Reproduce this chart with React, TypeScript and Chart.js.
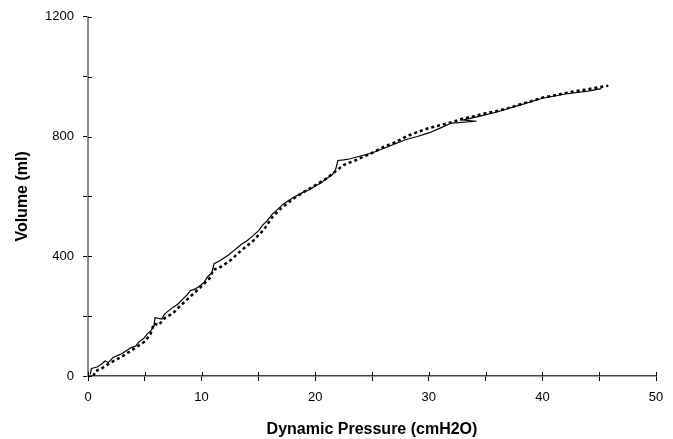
import React, { useEffect, useRef } from "react";
import { Chart, registerables } from "chart.js";

Chart.register(...registerables);

const solidPressure = [0.2, 0.3, 0.8, 1.2, 1.5, 1.8, 2.2, 2.6, 3.0, 3.4, 3.8, 4.2, 4.5, 4.9, 5.2, 5.5, 5.8, 5.9, 6.5, 6.7, 7.0, 7.5, 7.9, 8.3, 8.7, 9.0, 9.4, 9.8, 10.2, 10.5, 10.9, 11.1, 11.6, 12.0, 12.4, 12.8, 13.2, 13.5, 14.0, 14.5, 15.0, 15.4, 15.8, 16.2, 16.5, 17.2, 17.6, 18.0, 18.5, 19.0, 19.5, 20.0, 20.5, 21.0, 21.5, 21.8, 22.0, 22.5, 23.0, 24.0, 25.0, 26.0, 27.0, 28.0, 29.0, 30.0, 31.0, 32.0, 34.2, 33.0, 34.5, 36.0, 38.0, 40.0, 42.0, 44.0, 45.2];
const solidVolume = [5, 25, 30, 40, 50, 45, 62, 68, 75, 85, 95, 100, 115, 125, 140, 150, 165, 195, 190, 205, 215, 230, 240, 255, 270, 285, 290, 300, 312, 330, 345, 375, 385, 395, 405, 418, 430, 440, 452, 468, 485, 505, 520, 540, 550, 575, 585, 595, 605, 615, 622, 635, 645, 660, 672, 690, 720, 722, 725, 735, 745, 760, 775, 790, 800, 812, 828, 845, 851, 855, 868, 882, 905, 928, 942, 952, 960];

const dottedPressure = [0.5, 0.6, 1.2, 2.0, 3.0, 4.0, 5.0, 5.5, 5.8, 6.2, 6.8, 7.5, 8.0, 9.0, 10.0, 10.8, 11.0, 11.5, 12.5, 13.5, 14.5, 15.5, 16.2, 17.0, 18.0, 19.0, 20.0, 21.0, 22.0, 22.5, 23.5, 25.0, 26.0, 27.0, 28.0, 29.0, 30.0, 31.0, 32.0, 33.0, 34.0, 35.0, 36.0, 37.0, 38.0, 39.0, 40.0, 41.0, 42.0, 43.0, 44.0, 45.0, 45.8];
const dottedVolume = [0, 15, 25, 45, 65, 90, 115, 140, 175, 170, 195, 210, 230, 265, 300, 330, 355, 360, 385, 420, 450, 490, 530, 560, 590, 615, 637, 660, 690, 705, 720, 745, 765, 780, 800, 815, 828, 838, 848, 860, 868, 878, 885, 895, 907, 918, 930, 937, 945, 952, 958, 965, 970];

const xTitle = "Dynamic Pressure (cmH2O)";
const yTitle = "Volume (ml)";

const toPoints = (xs: number[], ys: number[]) => xs.map((x, i) => ({ x, y: ys[i] }));

const innerTicks = {
  id: "innerTicks",
  afterDraw(chart: any) {
    const ctx = chart.ctx;
    const { left, bottom } = chart.chartArea;
    const xs = chart.scales.x;
    const ys = chart.scales.y;
    ctx.save();
    ctx.strokeStyle = "#000";
    ctx.lineWidth = 1;
    ctx.beginPath();
    xs.ticks.forEach((t: any) => {
      const px = Math.round(xs.getPixelForValue(t.value)) + 0.5;
      ctx.moveTo(px, bottom);
      ctx.lineTo(px, bottom - 4);
    });
    ys.ticks.forEach((t: any) => {
      const py = Math.round(ys.getPixelForValue(t.value)) + 0.5;
      ctx.moveTo(left, py);
      ctx.lineTo(left + 4, py);
    });
    ctx.stroke();
    ctx.restore();
  },
};

export default function App() {
  const ref = useRef<HTMLCanvasElement>(null);
  useEffect(() => {
    if (!ref.current) return;
    const chart = new Chart(ref.current, {
      type: "scatter",
      data: {
        datasets: [
          {
            data: toPoints(solidPressure, solidVolume),
            showLine: true,
            borderColor: "#000",
            borderWidth: 1.2,
            pointRadius: 0,
            tension: 0,
          },
          {
            data: toPoints(dottedPressure, dottedVolume),
            showLine: true,
            borderColor: "#000",
            borderWidth: 2.5,
            borderDash: [3, 3],
            pointRadius: 0,
            tension: 0,
          },
        ],
      },
      options: {
        animation: false,
        responsive: true,
        maintainAspectRatio: false,
        layout: { padding: { top: 15, right: 17, left: 0, bottom: 0 } },
        plugins: { legend: { display: false }, tooltip: { enabled: false } },
        scales: {
          x: {
            type: "linear",
            min: 0,
            max: 50,
            afterFit: (s: any) => { s.height = 63; },
            border: { color: "#444", width: 1.5 },
            grid: { drawOnChartArea: false, drawTicks: true, tickLength: 5, color: "#000" },
            ticks: {
              stepSize: 5,
              padding: 9,
              color: "#000",
              font: { family: "Liberation Sans, Arial, sans-serif", size: 13 },
              callback: (v: any) => (Number(v) % 10 === 0 ? String(v) : ""),
              maxRotation: 0,
            },
            title: {
              display: true,
              text: xTitle,
              color: "#000",
              font: { family: "Liberation Sans, Arial, sans-serif", size: 16, weight: "bold" },
              padding: { top: 0, bottom: 0 },
            },
          },
          y: {
            type: "linear",
            min: 0,
            max: 1200,
            afterFit: (s: any) => { s.width = 88; },
            border: { color: "#888", width: 2 },
            grid: { drawOnChartArea: false, drawTicks: true, tickLength: 5, color: "#000" },
            ticks: {
              stepSize: 200,
              padding: 9,
              color: "#000",
              font: { family: "Liberation Sans, Arial, sans-serif", size: 13 },
              callback: (v: any) => (Number(v) % 400 === 0 ? String(v) : ""),
            },
            title: {
              display: true,
              text: yTitle,
              color: "#000",
              font: { family: "Liberation Sans, Arial, sans-serif", size: 16, weight: "bold" },
              padding: { top: 13, bottom: 0 },
            },
          },
        },
      },
      plugins: [innerTicks],
    });
    return () => chart.destroy();
  }, []);
  return (
    <div style={{ position: "absolute", left: 0, top: 0, width: 673, height: 439, background: "#fff" }}>
      <canvas ref={ref} />
    </div>
  );
}
